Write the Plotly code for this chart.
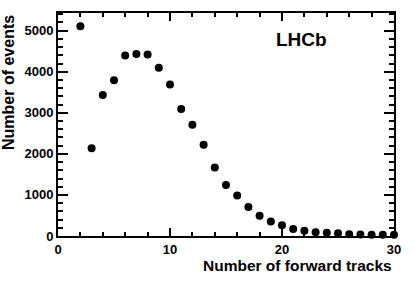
import plotly.graph_objects as go

tracks = list(range(2, 31))
events = [5105, 2135, 3435, 3795, 4398, 4431, 4420, 4095, 3688, 3090, 2707,
          2220, 1670, 1240, 985, 707, 496, 355, 262, 171, 126, 89, 78, 68,
          45, 38, 33, 30, 28]

x_title = "Number of forward tracks"
y_title = "Number of events"
label = "LHCb"

FONT = "Liberation Sans, Arial, sans-serif"

fig = go.Figure()
fig.add_trace(go.Scatter(
    x=tracks, y=events, mode="markers",
    marker=dict(color="black", size=8, symbol="circle"),
    cliponaxis=False, showlegend=False,
))

axis_common = dict(
    showgrid=False, zeroline=False, showline=True, linecolor="black",
    linewidth=2, mirror="ticks", ticks="inside", tickcolor="black",
    tickwidth=1.5, automargin=False,
    tickfont=dict(family=FONT, size=13, color="black", weight="bold"),
)

fig.update_xaxes(
    range=[0, 30], dtick=10, tick0=0, ticklen=8,
    minor=dict(dtick=2, ticklen=4, ticks="inside", tickcolor="black", tickwidth=1.5),
    **axis_common,
)
fig.update_yaxes(
    range=[0, 5430], dtick=1000, tick0=0, ticklen=10,
    minor=dict(dtick=200, ticklen=5, ticks="inside", tickcolor="black", tickwidth=1.5),
    **axis_common,
)

fig.update_layout(
    width=415, height=281,
    margin=dict(l=58, r=21, t=13, b=45),
    paper_bgcolor="white", plot_bgcolor="white",
    font=dict(family=FONT, color="black"),
    annotations=[
        dict(text=x_title, x=1, y=0, xref="paper", yref="paper",
             xanchor="right", yanchor="top", yshift=-18.5, showarrow=False,
             font=dict(family=FONT, size=15.5, color="black", weight="bold")),
        dict(text=y_title, x=0, y=1, xref="paper", yref="paper",
             xanchor="right", yanchor="top", xshift=-39, textangle=-90,
             showarrow=False,
             font=dict(family=FONT, size=16, color="black", weight="bold")),
        dict(text=label, x=0.726, y=0.883, xref="paper", yref="paper",
             xanchor="center", yanchor="middle", showarrow=False,
             font=dict(family=FONT, size=19, color="black", weight="bold")),
    ],
)

fig.write_html("out.html", config={"displayModeBar": False},
               post_script="document.body.style.margin='0';")
